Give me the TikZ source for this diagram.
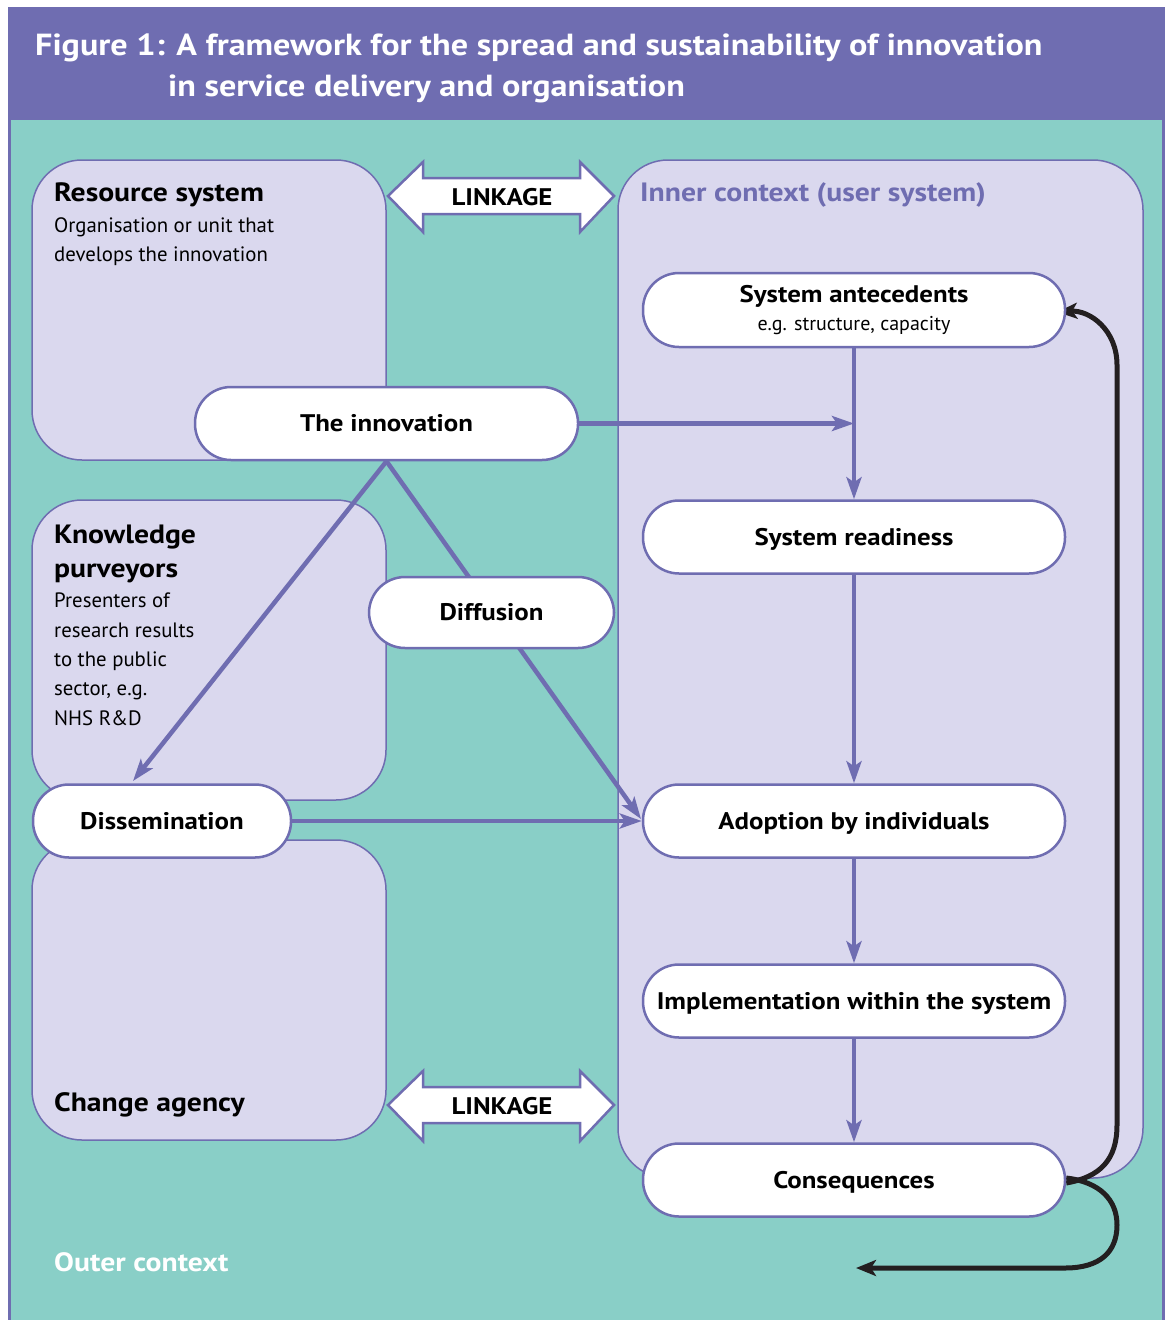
\documentclass[tikz,border=0pt]{standalone}
\usepackage{fontspec}
\setmainfont{PT Sans}[BoldFeatures={FakeStretch=1.12}]
\usetikzlibrary{arrows.meta,calc}
\definecolor{purp}{HTML}{6F6DB1}
\definecolor{lav}{HTML}{DAD8EE}
\definecolor{teal2}{HTML}{89CFC7}
\definecolor{blk}{HTML}{231F20}
\pgfdeclarelayer{bg}
\pgfdeclarelayer{mid}
\pgfsetlayers{bg,mid,main}
\newcommand{\fs}[1]{\fontsize{#1}{#1}\selectfont}
\begin{document}
\begin{tikzpicture}[x=1pt,y=-1pt,
  region/.style={draw=purp,line width=1.5pt,fill=lav,rounded corners=50pt},
  pill/.style={draw=purp,line width=2.5pt,fill=white,rounded corners=36pt,inner sep=0pt,align=center,font=\bfseries\fs{24}},
  onepill/.style={pill,text height=19pt,text depth=3pt},
  flow/.style={draw=purp,line width=4.5pt,-{Stealth[length=22pt,width=15pt,inset=5pt]}},
  loopflow/.style={draw=blk,line width=5pt,-{Stealth[length=20pt,width=16pt,inset=5pt]}},
  linkage/.style={draw=purp,line width=2.5pt,fill=white,line join=miter},
  heading/.style={anchor=base west,inner sep=0pt,font=\bfseries\fs{26.5}},
  body/.style={anchor=base west,inner sep=0pt,font=\fs{20.8}},
]
\useasboundingbox (0,0) rectangle (1167,1320);
\begin{pgfonlayer}{bg}
\fill[white] (0,0) rectangle (1167,1320);
\fill[purp] (8,7) rectangle (1165,1320);
\fill[teal2] (11,120) rectangle (1162,1320);
\draw[region] (32,160) rectangle (386,460);
\draw[region] (32,500) rectangle (386,800);
\draw[region] (32,840) rectangle (386,1140);
\draw[region] (618,160) rectangle (1143,1178);
% linkage arrows
\draw[linkage] (388,196) -- (423,162) -- (423,178) -- (580,178) -- (580,162) -- (614,196) -- (580,232) -- (580,214) -- (423,214) -- (423,232) -- cycle;
\draw[linkage] (388,1105) -- (423,1071) -- (423,1087) -- (580,1087) -- (580,1071) -- (614,1105) -- (580,1141) -- (580,1123) -- (423,1123) -- (423,1141) -- cycle;
\end{pgfonlayer}

% title
\node[anchor=base west,inner sep=0pt,text=white,font=\bfseries\fs{30.5}] (t1) at (35,55) {Figure 1: A framework for the spread and sustainability of innovation};
\node[anchor=base west,inner sep=0pt,text=white,font=\bfseries\fs{30.5}] (t2) at (168,96) {in service delivery and organisation};

% linkage labels
\node[font=\bfseries\fs{24},inner sep=0pt] (lk1) at (502,197) {LINKAGE};
\node[font=\bfseries\fs{24},inner sep=0pt] (lk2) at (502,1106) {LINKAGE};

% region texts
\node[heading] (rs) at (54,201) {Resource system};
\node[body] (rs1) at (54,232) {Organisation or unit that};
\node[body] (rs2) at (54,261) {develops the innovation};
\node[heading] (kp1) at (54,543) {Knowledge};
\node[heading] (kp2) at (54,577) {purveyors};
\node[body] (kpa) at (54,607) {Presenters of};
\node[body] (kpb) at (54,637) {research results};
\node[body] (kpc) at (54,666) {to the public};
\node[body] (kpd) at (54,695) {sector, e.g.};
\node[body] (kpe) at (54,725) {NHS R\&D};
\node[heading] (ca) at (54,1111) {Change agency};
\node[heading,text=purp] (ic) at (640,201) {Inner context (user system)};
\node[heading,text=white] (oc) at (54,1271) {Outer context};

% nodes
\node[pill,minimum width=422pt,minimum height=74pt] (ante) at (854,310) {System antecedents\\[4pt]{\normalfont\fs{20}e.g. structure, capacity}};
\node[onepill,minimum width=383pt,minimum height=73pt] (innov) at (386.5,423.5) {The innovation};
\node[onepill,minimum width=422pt,minimum height=73pt] (ready) at (854,537) {System readiness};
\node[onepill,minimum width=245pt,minimum height=71pt] (diff) at (491.5,612.5) {Diffusion};
\node[onepill,minimum width=258pt,minimum height=73pt] (diss) at (162,821) {Dissemination};
\node[onepill,minimum width=422pt,minimum height=73pt] (adopt) at (854,821) {Adoption by individuals};
\node[onepill,minimum width=422pt,minimum height=73pt] (impl) at (854,1001) {Implementation within the system};
\node[onepill,minimum width=422pt,minimum height=73pt] (cons) at (854,1180) {Consequences};

\coordinate (disstip) at (133,781);
\coordinate (adopttip) at (641,819);
\coordinate (backtip) at (856,1268);

\begin{pgfonlayer}{mid}
\draw[flow] (innov.east) -- (innov.east -| ante.south);
\draw[flow] (ante.south) -- (ready.north);
\draw[flow] (ready.south) -- (adopt.north);
\draw[flow] (adopt.south) -- (impl.north);
\draw[flow] (impl.south) -- (cons.north);
\draw[flow] (diss.east) -- (adopt.west);
\draw[flow] (innov.south) -- (disstip);
\draw[flow] (innov.south) -- (adopttip);
\draw[loopflow] ([yshift=-3pt]cons.east) .. controls (1100,1177) and (1117,1160) .. (1117,1125) -- (1117,365) .. controls (1117,330) and (1090,310) .. ([xshift=-9pt,yshift=-2pt]ante.east);
\draw[loopflow] ([yshift=2pt]cons.east) .. controls (1100,1182) and (1117,1200) .. (1117,1225) .. controls (1117,1252) and (1100,1268) .. (1065,1268) -- (backtip);
\end{pgfonlayer}
\end{tikzpicture}
\end{document}
